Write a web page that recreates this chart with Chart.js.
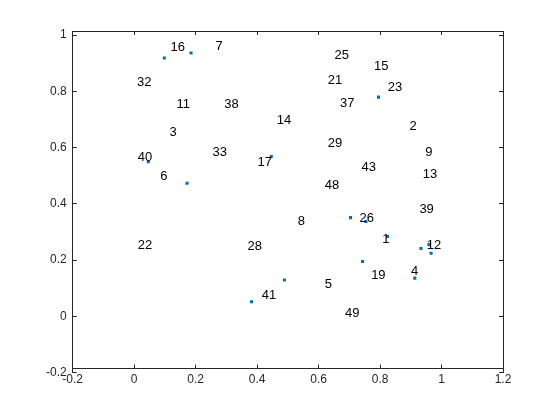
<!doctype html>
<html>
<body style="margin:0;background:#ffffff">
<canvas id="scatterText" width="560" height="420"></canvas>
<script src="https://cdn.jsdelivr.net/npm/chart.js@4/dist/chart.umd.min.js"></script>
<script>
// axis ranges
var xMin=-0.2, xMax=1.2, yMin=-0.2, yMax=1;
var tickStep=0.2;

// blue markers
var markX=[0.098,0.185,0.046,0.172,0.446,0.795,0.382,0.489,0.704,0.754,0.824,0.933,0.959,0.966,0.743,0.913];
var markY=[0.918,0.936,0.550,0.473,0.568,0.779,0.052,0.129,0.351,0.337,0.284,0.241,0.255,0.224,0.195,0.136];

// number labels, anchored left / middle
var txt=["16","7","25","15","32","21","23","11","38","37","14","2","3","29","40","33","17","9","43","6","13","48","39","8","26","22","28","1","12","19","4","5","41","49"];
var txtX=[0.118,0.265,0.652,0.780,0.009,0.630,0.825,0.138,0.293,0.670,0.464,0.896,0.115,0.630,0.012,0.255,0.401,0.947,0.740,0.085,0.939,0.620,0.928,0.532,0.733,0.012,0.369,0.807,0.952,0.771,0.901,0.620,0.415,0.686];
var txtY=[0.957,0.959,0.926,0.889,0.831,0.838,0.813,0.752,0.754,0.758,0.697,0.674,0.655,0.614,0.565,0.582,0.547,0.582,0.530,0.498,0.503,0.466,0.379,0.337,0.347,0.252,0.248,0.273,0.253,0.146,0.161,0.115,0.073,0.009];

var axisCol="#262626";
var fam="Arial, 'Liberation Sans', sans-serif";

var textPlugin={
    id:"numberText",
    afterDatasetsDraw:function(chart){
        var c=chart.ctx;
        var xs=chart.scales.x, ys=chart.scales.y;
        c.save();
        c.fillStyle="#000";
        c.font="13px "+fam;
        c.textAlign="left";
        c.textBaseline="middle";
        for(var i=0;i<txt.length;i++){
            c.fillText(txt[i],xs.getPixelForValue(txtX[i]),ys.getPixelForValue(txtY[i]));
        }
        c.restore();
    }
};

function fmt(v){ return String(Math.round(v*10)/10); }

// one axis of the box: border line plus short inward ticks
function axis(pos,min,max,showLabels,pad){
    return {
        type:"linear",position:pos,min:min,max:max,
        border:{display:true,color:axisCol,width:1},
        grid:{display:true,drawOnChartArea:false,drawTicks:true,tickLength:-4,color:axisCol,lineWidth:1},
        ticks:{display:showLabels,stepSize:tickStep,color:axisCol,padding:pad,maxRotation:0,
            font:{family:fam,size:12},callback:fmt}
    };
}

var pts=[];
for(var n=0;n<markX.length;n++){ pts.push({x:markX[n],y:markY[n]}); }

var scatterChart=new Chart(document.getElementById("scatterText"),{
    type:"scatter",
    data:{
        datasets:[{
            data:pts,
            pointStyle:"rect",
            pointRadius:2.2,
            pointBorderWidth:0,
            backgroundColor:"#0072BD",
            borderColor:"#0072BD"
        }]
    },
    options:{
        responsive:false,
        animation:false,
        layout:{padding:{top:35,right:57,left:36,bottom:21}},
        plugins:{legend:{display:false},tooltip:{enabled:false}},
        scales:{
            x:axis("bottom",xMin,xMax,true,8),
            y:axis("left",yMin,yMax,true,10),
            x2:axis("top",xMin,xMax,false,0),
            y2:axis("right",yMin,yMax,false,0)
        }
    },
    plugins:[textPlugin]
});
</script>
</body>
</html>
